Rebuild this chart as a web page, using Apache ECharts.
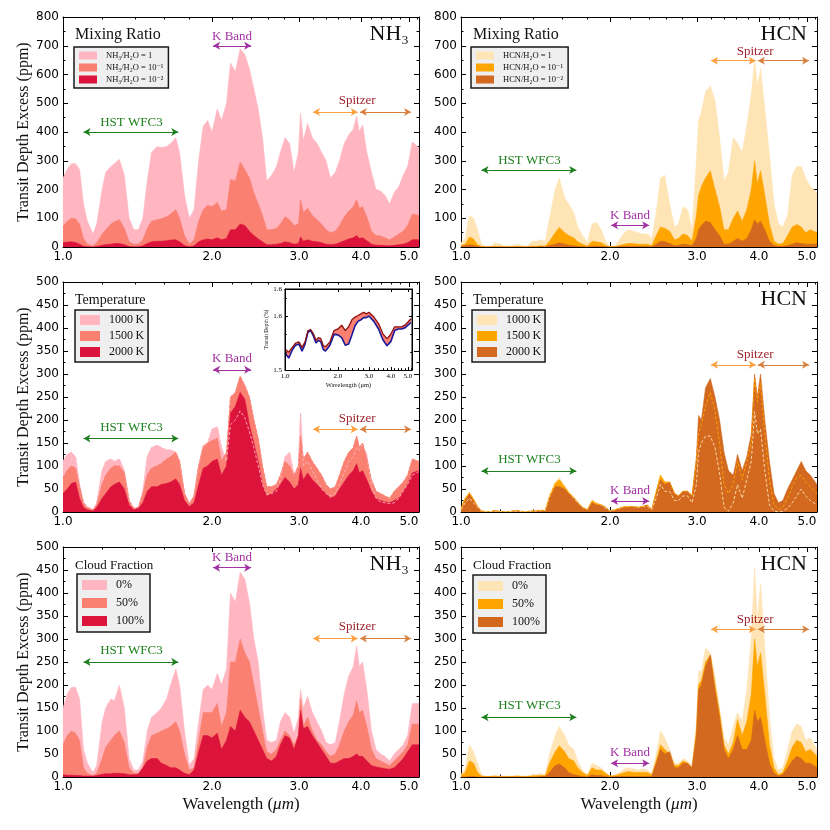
<!DOCTYPE html>
<html>
<head>
<meta charset="utf-8">
<title>Transit depth excess: NH3 and HCN</title>
<script src="https://cdn.jsdelivr.net/npm/echarts@6/dist/echarts.min.js"></script>
<style>
  html, body { margin: 0; padding: 0; background: #fff; }
  #chart { width: 830px; height: 830px; }
</style>
</head>
<body>
<div id="chart"></div>
<script>
// wavelength grid (micron) shared by all spectra
const wavelength = [
  1.00, 1.02, 1.04, 1.06, 1.08, 1.10, 1.12, 1.15, 1.17, 1.20,
  1.22, 1.25, 1.27, 1.30, 1.33, 1.36, 1.39, 1.42, 1.45, 1.48,
  1.51, 1.55, 1.58, 1.62, 1.65, 1.69, 1.72, 1.76, 1.80, 1.84,
  1.88, 1.92, 1.96, 2.00, 2.05, 2.09, 2.14, 2.18, 2.23, 2.28,
  2.33, 2.38, 2.43, 2.48, 2.53, 2.58, 2.64, 2.70, 2.75, 2.81,
  2.87, 2.93, 2.99, 3.02, 3.06, 3.12, 3.19, 3.26, 3.33, 3.40,
  3.47, 3.55, 3.62, 3.70, 3.78, 3.86, 3.92, 3.97, 4.03, 4.11,
  4.20, 4.29, 4.38, 4.47, 4.57, 4.67, 4.77, 4.87, 4.97, 5.08,
  5.24
];

// NH3 mixing ratio (ppm)
const nh3Mix1 = [
  240, 270, 290, 290, 270, 150, 90, 45, 80, 200,
  260, 280, 290, 305, 250, 100, 60, 60, 100, 230,
  330, 350, 345, 350, 360, 380, 330, 180, 100, 130,
  300, 420, 440, 400, 480, 440, 500, 640, 610, 690,
  670, 620, 550, 480, 380, 230, 250, 280, 330, 380,
  360, 260, 330, 465, 370, 430, 380, 360, 330, 300,
  240, 260, 300, 360, 390, 410, 455, 400, 425, 330,
  260, 200, 195, 180, 150, 190, 210, 250, 280, 365,
  345
];
const nh3Mix01 = [
  72, 90, 100, 98, 80, 30, 10, 4, 15, 45,
  60, 80, 88, 95, 65, 18, 10, 10, 25, 65,
  90, 95, 98, 105, 115, 130, 100, 40, 10, 25,
  90, 130, 145, 140, 155, 125, 130, 235, 230, 295,
  270, 240, 190, 150, 110, 60, 60, 65, 80, 105,
  95, 75, 80, 165, 120, 135, 110, 95, 80, 60,
  50, 55, 75, 105, 125, 140, 165, 135, 140, 105,
  55, 40, 38, 32, 25, 35, 45, 55, 75, 115,
  110
];
const nh3Mix001 = [
  15, 17, 18, 16, 10, 3, 1, 0, 2, 6,
  8, 10, 12, 12, 8, 2, 1, 1, 4, 12,
  18, 20, 20, 22, 24, 25, 18, 5, 1, 4,
  18, 25, 28, 25, 32, 25, 30, 60, 60, 80,
  75, 55, 40, 28, 18, 8, 8, 10, 12, 18,
  15, 10, 12, 35, 20, 25, 20, 18, 15, 10,
  8, 10, 15, 22, 28, 32, 40, 30, 32, 22,
  10, 6, 6, 5, 4, 6, 8, 10, 15, 25,
  25
];

// HCN mixing ratio (ppm)
const hcnMix1 = [
  15, 30, 110, 100, 60, 10, 3, 3, 15, 10,
  5, 3, 5, 10, 5, 2, 20, 20, 25, 20,
  100, 200, 240, 170, 150, 120, 70, 40, 15, 80,
  85, 60, 20, 3, 5, 25, 50, 60, 55, 50,
  45, 45, 30, 120, 240, 250, 150, 70, 80, 140,
  130, 60, 300, 440, 470, 540, 560, 510, 380, 230,
  260, 380, 360, 330, 420, 530, 650, 560, 620, 480,
  320, 150, 80, 70, 110, 250, 280, 280, 240, 210,
  190
];
const hcnMix01 = [
  5, 10, 35, 28, 8, 2, 1, 1, 2, 2,
  1, 1, 1, 2, 1, 1, 3, 3, 4, 3,
  20, 50, 68, 50, 40, 32, 18, 10, 3, 20,
  18, 15, 5, 1, 2, 5, 10, 12, 12, 10,
  10, 10, 5, 40, 70, 65, 55, 25, 30, 45,
  40, 20, 110, 180, 210, 240, 265, 200, 140, 60,
  60, 100, 125, 90, 130, 200, 300, 220, 265, 180,
  80, 20, 10, 12, 40, 70, 78, 70, 50, 60,
  50
];
const hcnMix001 = [
  3, 5, 8, 6, 2, 0, 0, 0, 0, 0,
  0, 0, 0, 0, 0, 0, 0, 0, 1, 1,
  5, 10, 15, 10, 6, 4, 2, 1, 0, 3,
  3, 2, 1, 0, 0, 1, 2, 2, 2, 2,
  2, 2, 1, 10, 20, 18, 12, 5, 6, 10,
  8, 4, 30, 60, 75, 90, 85, 60, 40, 10,
  10, 20, 30, 20, 30, 60, 95, 80, 90, 60,
  20, 5, 2, 2, 5, 10, 15, 12, 10, 10,
  10
];

// NH3 temperature (ppm)
const nh3T1000 = [
  110, 125, 130, 120, 60, 20, 10, 5, 20, 90,
  110, 115, 110, 115, 90, 25, 8, 10, 45, 120,
  140, 145, 140, 135, 135, 130, 110, 40, 18, 35,
  100, 145, 150, 180, 185, 140, 110, 190, 200, 220,
  205, 175, 140, 100, 60, 38, 40, 45, 70, 120,
  130, 80, 100, 215, 100, 110, 90, 70, 50, 40,
  35, 40, 60, 85, 110, 120, 140, 135, 145, 125,
  55, 30, 22, 20, 18, 20, 30, 45, 60, 80,
  88
];
const nh3T1500 = [
  75, 90, 100, 95, 55, 20, 10, 5, 15, 60,
  80, 95, 100, 100, 85, 25, 8, 10, 40, 80,
  95, 100, 105, 115, 120, 130, 110, 40, 18, 35,
  100, 140, 150, 155, 160, 110, 130, 250, 260, 295,
  275, 250, 200, 160, 100, 55, 55, 60, 80, 110,
  100, 80, 100, 165, 115, 130, 110, 95, 80, 60,
  50, 55, 80, 110, 130, 140, 165, 140, 150, 115,
  70, 45, 40, 35, 30, 45, 55, 65, 80, 115,
  110
];
const nh3T2000 = [
  40, 50, 62, 65, 30, 10, 5, 2, 10, 30,
  40, 55, 60, 65, 50, 15, 5, 8, 20, 45,
  55, 55, 60, 62, 65, 72, 60, 25, 12, 20,
  60, 95, 100, 110, 115, 80, 100, 215, 230, 260,
  245, 190, 150, 110, 60, 35, 40, 50, 60, 75,
  65, 50, 60, 95, 70, 85, 70, 60, 50, 40,
  30, 35, 50, 65, 80, 90, 105, 85, 90, 70,
  45, 30, 25, 22, 20, 25, 30, 45, 60, 85,
  90
];

// HCN temperature (ppm)
const hcnT1000 = [
  5, 20, 30, 20, 10, 2, 1, 1, 2, 1,
  1, 1, 1, 2, 1, 1, 2, 2, 3, 3,
  35, 65, 75, 55, 45, 30, 20, 10, 5, 25,
  20, 15, 8, 2, 5, 8, 12, 12, 12, 10,
  12, 12, 5, 30, 60, 45, 45, 25, 25, 35,
  35, 20, 60, 130, 150, 165, 165, 140, 85, 10,
  2, 20, 60, 30, 70, 110, 218, 170, 180, 90,
  15, 2, 0, 2, 8, 20, 35, 50, 35, 25,
  15
];
const hcnT1500 = [
  8, 30, 42, 28, 12, 2, 1, 1, 3, 1,
  1, 1, 2, 3, 1, 1, 2, 3, 4, 3,
  35, 62, 70, 55, 42, 32, 22, 10, 5, 25,
  18, 16, 10, 2, 5, 8, 12, 12, 12, 10,
  12, 15, 5, 45, 80, 65, 65, 40, 35, 45,
  45, 35, 110, 170, 190, 230, 260, 220, 150, 60,
  40, 60, 110, 70, 110, 150, 290, 240, 280, 170,
  70, 15, 5, 10, 30, 55, 75, 80, 65, 55,
  40
];
const hcnT2000 = [
  5, 25, 40, 25, 12, 2, 1, 1, 3, 1,
  1, 1, 2, 3, 1, 1, 2, 3, 3, 3,
  30, 55, 55, 50, 40, 30, 20, 10, 5, 20,
  15, 15, 10, 2, 5, 8, 10, 10, 12, 10,
  12, 15, 5, 40, 70, 60, 65, 40, 35, 45,
  45, 35, 120, 210, 200, 270, 290, 250, 200, 130,
  90, 80, 125, 90, 120, 170, 300, 250, 300, 200,
  110, 40, 20, 25, 50, 70, 90, 110, 90, 80,
  60
];

// NH3 cloud fraction (ppm)
const nh3Cloud0 = [
  150, 180, 195, 195, 170, 60, 30, 10, 25, 120,
  150, 170, 165, 200, 150, 40, 15, 15, 35, 100,
  130, 140, 150, 170, 200, 235, 200, 100, 25, 40,
  120, 190, 200, 190, 225, 200, 235, 400, 380, 445,
  430, 380, 300, 250, 150, 80, 75, 80, 120, 140,
  130, 95, 130, 190, 150, 175, 140, 120, 100, 75,
  70, 75, 120, 180, 220, 240, 285, 240, 250, 190,
  100, 60, 50, 45, 35, 50, 60, 70, 90, 160,
  160
];
const nh3Cloud50 = [
  70, 90, 100, 95, 80, 20, 8, 3, 8, 40,
  65, 80, 90, 100, 75, 20, 8, 8, 20, 65,
  90, 95, 100, 105, 110, 120, 100, 50, 15, 20,
  80, 140, 140, 140, 160, 110, 140, 250, 250, 300,
  270, 250, 200, 150, 100, 55, 50, 60, 80, 100,
  90, 70, 90, 170, 110, 130, 100, 80, 70, 55,
  45, 50, 70, 100, 120, 135, 165, 140, 145, 110,
  60, 40, 35, 30, 25, 35, 45, 55, 70, 115,
  115
];
const nh3Cloud100 = [
  5, 4, 4, 3, 3, 2, 2, 2, 3, 6,
  7, 7, 8, 8, 7, 5, 5, 6, 20, 35,
  40, 40, 30, 25, 20, 20, 15, 8, 5, 15,
  55, 90, 90, 85, 95, 60, 80, 110, 100, 145,
  130, 120, 100, 80, 60, 40, 35, 45, 70, 90,
  85, 60, 90, 145, 105, 110, 90, 75, 60, 45,
  30, 30, 35, 40, 40, 45, 50, 45, 45, 35,
  25, 22, 20, 18, 17, 20, 30, 40, 55, 70,
  70
];

// HCN cloud fraction (ppm)
const hcnCloud0 = [
  5, 20, 70, 55, 30, 5, 2, 2, 3, 2,
  2, 2, 2, 3, 2, 2, 5, 5, 8, 5,
  50, 90, 110, 90, 70, 60, 35, 15, 5, 30,
  25, 20, 10, 2, 5, 10, 18, 20, 18, 15,
  18, 15, 8, 50, 100, 85, 60, 30, 30, 40,
  35, 25, 120, 230, 230, 280, 270, 220, 150, 85,
  70, 110, 140, 120, 190, 300, 455, 340, 420, 280,
  130, 40, 15, 20, 60, 100, 115, 110, 80, 85,
  60
];
const hcnCloud50 = [
  3, 10, 35, 30, 10, 2, 1, 1, 2, 1,
  1, 1, 1, 2, 1, 1, 2, 3, 3, 3,
  30, 55, 68, 55, 40, 35, 20, 10, 3, 20,
  15, 15, 8, 2, 3, 6, 10, 12, 10, 10,
  10, 10, 5, 35, 70, 60, 50, 25, 25, 35,
  30, 20, 100, 200, 210, 250, 265, 200, 140, 70,
  50, 75, 125, 90, 120, 180, 300, 240, 270, 180,
  70, 20, 5, 10, 35, 65, 80, 75, 55, 60,
  45
];
const hcnCloud100 = [
  0, 0, 1, 1, 0, 0, 0, 0, 0, 0,
  0, 0, 0, 0, 0, 0, 0, 0, 1, 1,
  10, 25, 28, 20, 10, 5, 3, 1, 0, 5,
  3, 3, 1, 0, 1, 1, 1, 1, 1, 1,
  1, 1, 1, 30, 60, 50, 55, 20, 20, 30,
  30, 20, 90, 190, 200, 240, 265, 190, 130, 60,
  40, 60, 90, 60, 60, 80, 145, 120, 130, 80,
  30, 8, 2, 5, 20, 35, 45, 40, 30, 30,
  20
];

// inset: total transit depth (%)
const insetWavelength = [
  1.00, 1.05, 1.10, 1.15, 1.20, 1.25, 1.30, 1.35, 1.40, 1.45,
  1.50, 1.55, 1.60, 1.65, 1.70, 1.80, 1.90, 2.00, 2.10, 2.20,
  2.30, 2.40, 2.50, 2.60, 2.70, 2.80, 2.90, 3.00, 3.20, 3.40,
  3.60, 3.80, 3.90, 4.00, 4.20, 4.40, 4.60, 4.80, 5.00, 5.20
];
const insetWithNH3 = [
  1.539, 1.533, 1.542, 1.550, 1.552, 1.542, 1.552, 1.573, 1.575, 1.567,
  1.555, 1.560, 1.558, 1.545, 1.543, 1.552, 1.573, 1.576, 1.583, 1.573,
  1.580, 1.593, 1.598, 1.601, 1.604, 1.607, 1.604, 1.607, 1.598, 1.586,
  1.567, 1.558, 1.562, 1.567, 1.580, 1.580, 1.580, 1.583, 1.589, 1.595
];
const insetWithoutNH3 = [
  1.532, 1.522, 1.537, 1.546, 1.548, 1.535, 1.548, 1.570, 1.573, 1.563,
  1.550, 1.555, 1.552, 1.538, 1.535, 1.546, 1.566, 1.565, 1.560, 1.546,
  1.548, 1.565, 1.582, 1.590, 1.593, 1.597, 1.597, 1.600, 1.590, 1.576,
  1.556, 1.545, 1.548, 1.553, 1.573, 1.576, 1.576, 1.578, 1.583, 1.588
];

// axis ticks and instrument bands
const xMajorTicks = [1, 2, 3, 4, 5];
const xMinorTicks = [1.2, 1.4, 1.6, 1.8, 2.2, 2.4, 2.6, 2.8, 3.2, 3.4, 3.6, 3.8, 4.2, 4.4, 4.6, 4.8, 5.2];
const hstBand = [1.10, 1.71];
const kBand = [2.01, 2.40];
const spitzerCh1 = [3.20, 3.94];
const spitzerCh2 = [3.98, 5.05];

const mixLabelsNH3 = ['NH₃/H₂O = 1', 'NH₃/H₂O = 10⁻¹', 'NH₃/H₂O = 10⁻²'];
const mixLabelsHCN = ['HCN/H₂O = 1', 'HCN/H₂O = 10⁻¹', 'HCN/H₂O = 10⁻²'];
const tempLabels = ['1000\u2009K', '1500\u2009K', '2000\u2009K'];
const cloudLabels = ['0%', '50%', '100%'];

const serif = '"Liberation Serif", "DejaVu Serif", serif';
const sans = '"DejaVu Sans", sans-serif';
const nh3Colors = ['#ffb6c1', '#fa8072', '#dc143c'];
const hcnColors = ['#ffe4b5', '#ffa500', '#d2691e'];
const green = '#1d7f1d';
const purple = '#a232a2';
const spitzerRed = '#a0242c';

const panels = [
  { key: 'a', left: 63, top: 17, ymax: 800, step: 100, colors: nh3Colors,
    values: [nh3Mix1, nh3Mix01, nh3Mix001], labels: mixLabelsNH3,
    title: 'Mixing Ratio', titleSize: 16, molecule: 'NH₃',
    legend: { left: 74, top: 47, w: 18, h: 8, font: 8.5, gap: 3, pad: [4, 5, 4, 5] },
    hst: [400, 432], kb: [700, 733], sp: [470, 511], dashed: false },
  { key: 'b', left: 461, top: 17, ymax: 800, step: 100, colors: hcnColors,
    values: [hcnMix1, hcnMix01, hcnMix001], labels: mixLabelsHCN,
    title: 'Mixing Ratio', titleSize: 16, molecule: 'HCN',
    legend: { left: 471, top: 47, w: 18, h: 8, font: 8.5, gap: 3, pad: [4, 5, 4, 5] },
    hst: [268, 300], kb: [76, 109], sp: [648, 681], dashed: false },
  { key: 'c', left: 63, top: 282, ymax: 500, step: 50, colors: nh3Colors,
    values: [nh3T1000, nh3T1500, nh3T2000], labels: tempLabels,
    title: 'Temperature', titleSize: 14, molecule: null,
    legend: { left: 75, top: 310, w: 20, h: 10, font: 12, gap: 4, pad: [4, 4, 4, 5] },
    hst: [160, 183], kb: [309, 334], sp: [180, 203], dashed: true },
  { key: 'd', left: 461, top: 282, ymax: 500, step: 50, colors: hcnColors,
    values: [hcnT1000, hcnT1500, hcnT2000], labels: tempLabels,
    title: 'Temperature', titleSize: 14, molecule: 'HCN',
    legend: { left: 472, top: 310, w: 20, h: 10, font: 12, gap: 4, pad: [4, 4, 4, 5] },
    hst: [89, 113], kb: [24, 47], sp: [320, 343], dashed: true },
  { key: 'e', left: 63, top: 547, ymax: 500, step: 50, colors: nh3Colors,
    values: [nh3Cloud0, nh3Cloud50, nh3Cloud100], labels: cloudLabels,
    title: 'Cloud Fraction', titleSize: 13, molecule: 'NH₃',
    legend: { left: 77, top: 574, w: 25, h: 10, font: 12, gap: 6, pad: [5, 6, 5, 5] },
    hst: [250, 275], kb: [455, 478], sp: [301, 327], dashed: false },
  { key: 'f', left: 461, top: 547, ymax: 500, step: 50, colors: hcnColors,
    values: [hcnCloud0, hcnCloud50, hcnCloud100], labels: cloudLabels,
    title: 'Cloud Fraction', titleSize: 13, molecule: 'HCN',
    legend: { left: 473, top: 575, w: 25, h: 10, font: 12, gap: 6, pad: [5, 6, 5, 5] },
    hst: [130, 155], kb: [30, 53], sp: [321, 343], dashed: false }
];

const grid = [], xAxis = [], yAxis = [], series = [], legend = [], graphic = [];
const tickLine = { color: '#000', width: 1 };

panels.forEach((p, i) => {
  const bottomRow = i >= 4;
  grid.push({ left: p.left, top: p.top, width: 356, height: 230, containLabel: false });

  const xBase = { gridIndex: i, type: 'log', logBase: 10, min: 1, max: 5.24, splitLine: { show: false } };
  xAxis.push(Object.assign({}, xBase, {
    position: 'bottom',
    axisLine: { show: true, lineStyle: { color: '#000', width: 1 } },
    axisTick: { show: true, inside: true, length: 5, customValues: xMajorTicks, lineStyle: tickLine },
    axisLabel: { show: true, customValues: xMajorTicks, formatter: v => Number(v).toFixed(1),
      fontFamily: sans, fontSize: 12, color: '#000', margin: 4 },
    name: bottomRow ? 'Wavelength ({i|μm})' : '',
    nameLocation: 'middle', nameGap: 19,
    nameTextStyle: { fontFamily: serif, fontSize: 17, color: '#111',
      rich: { i: { fontFamily: serif, fontSize: 17, fontStyle: 'italic', color: '#111' } } }
  }));
  xAxis.push(Object.assign({}, xBase, {
    position: 'bottom', axisLine: { show: false },
    axisTick: { show: true, inside: true, length: 2.5, customValues: xMinorTicks, lineStyle: tickLine },
    axisLabel: { show: false }
  }));
  xAxis.push(Object.assign({}, xBase, {
    position: 'top',
    axisLine: { show: true, lineStyle: { color: '#000', width: 1 } },
    axisTick: { show: true, inside: true, length: 5, customValues: xMajorTicks, lineStyle: tickLine },
    axisLabel: { show: false }
  }));
  xAxis.push(Object.assign({}, xBase, {
    position: 'top', axisLine: { show: false },
    axisTick: { show: true, inside: true, length: 2.5, customValues: xMinorTicks, lineStyle: tickLine },
    axisLabel: { show: false }
  }));

  const yBase = { gridIndex: i, type: 'value', min: 0, max: p.ymax, interval: p.step, splitLine: { show: false },
    axisLine: { show: true, lineStyle: { color: '#000', width: 1 } },
    axisTick: { show: true, inside: true, length: 5, lineStyle: tickLine },
    minorTick: { show: true, splitNumber: 2, length: 2.5, lineStyle: tickLine } };
  yAxis.push(Object.assign({}, yBase, {
    position: 'left',
    axisLabel: { fontFamily: sans, fontSize: 12, color: '#000', margin: 4 },
    name: i % 2 === 0 ? 'Transit Depth Excess (ppm)' : '',
    nameLocation: 'middle', nameGap: 30,
    nameTextStyle: { fontFamily: serif, fontSize: 16, color: '#111' }
  }));
  yAxis.push(Object.assign({}, yBase, { position: 'right', axisLabel: { show: false } }));

  const names = p.labels.map(l => p.key + '|' + l);
  p.values.forEach((vals, k) => {
    const s = {
      name: names[k], type: 'line', xAxisIndex: 4 * i, yAxisIndex: 2 * i,
      data: wavelength.map((w, j) => [w, vals[j]]),
      showSymbol: false, symbol: 'none', color: p.colors[k],
      lineStyle: { width: 0.6, color: p.colors[k] },
      areaStyle: { color: p.colors[k], opacity: 1 },
      z: 2 + k, silent: true, animation: false
    };
    if (k === 2) {
      s.markLine = {
        silent: true, animation: false, symbol: ['arrow', 'arrow'], symbolSize: [6, 7],
        label: { show: false }, emphasis: { disabled: true },
        data: [
          [{ coord: [hstBand[0], p.hst[0]], lineStyle: { color: green, width: 1.2, type: 'solid' } }, { coord: [hstBand[1], p.hst[0]] }],
          [{ coord: [kBand[0], p.kb[0]], lineStyle: { color: purple, width: 1.2, type: 'solid' } }, { coord: [kBand[1], p.kb[0]] }],
          [{ coord: [spitzerCh1[0], p.sp[0]], lineStyle: { color: '#ffa040', width: 1.2, type: 'solid' } }, { coord: [spitzerCh1[1], p.sp[0]] }],
          [{ coord: [spitzerCh2[0], p.sp[0]], lineStyle: { color: '#d9803f', width: 1.2, type: 'solid' } }, { coord: [spitzerCh2[1], p.sp[0]] }]
        ]
      };
      s.markPoint = {
        silent: true, animation: false, symbol: 'circle', symbolSize: 1,
        itemStyle: { color: 'rgba(0,0,0,0)' },
        label: { show: true, position: 'inside', formatter: '{b}', fontFamily: serif, fontSize: 13 },
        data: [
          { name: 'HST WFC3', coord: [1.375, p.hst[1]], label: { color: green } },
          { name: 'K Band', coord: [2.196, p.kb[1]], label: { color: purple } },
          { name: 'Spitzer', coord: [3.93, p.sp[1]], label: { color: spitzerRed } }
        ]
      };
    }
    series.push(s);
  });
  if (p.dashed) {
    [0, 1].forEach(k => {
      series.push({
        name: p.key + '-dash' + k, type: 'line', xAxisIndex: 4 * i, yAxisIndex: 2 * i,
        data: wavelength.map((w, j) => [w, p.values[k][j]]),
        showSymbol: false, symbol: 'none',
        lineStyle: { width: 0.9, color: p.colors[k], type: [3, 2] },
        z: 6, silent: true, animation: false
      });
    });
  }

  const lg = p.legend;
  legend.push({
    left: lg.left, top: lg.top, orient: 'vertical', data: names, icon: 'rect',
    itemWidth: lg.w, itemHeight: lg.h, itemGap: lg.gap, padding: lg.pad,
    backgroundColor: '#efefef', borderColor: '#1a1a1a', borderWidth: 1.5, borderRadius: 0,
    selectedMode: false, formatter: n => n.split('|')[1],
    textStyle: { fontFamily: serif, fontSize: lg.font, color: '#111', padding: [0, 0, 0, 4] }
  });

  graphic.push({ type: 'text', left: p.left + 12, top: p.top + 10 + (16 - p.titleSize) * 0.6,
    style: { text: p.title, fontFamily: serif, fontSize: p.titleSize, fill: '#111' } });
  if (p.molecule) {
    graphic.push({ type: 'text', right: 830 - (p.left + 346), top: p.top + 6,
      style: { text: p.molecule, fontFamily: serif, fontSize: 22, fill: '#111' } });
  }
});

// inset inside the NH3 temperature panel
const insetGrid = grid.length;
grid.push({ left: 285, top: 289, width: 127, height: 81, show: true, backgroundColor: '#fff',
  borderColor: '#000', borderWidth: 1, z: 10 });
const insetFrame = { show: true, lineStyle: { color: '#000', width: 1 } };
const insetX = xAxis.length;
xAxis.push({ gridIndex: insetGrid, type: 'log', logBase: 10, min: 1, max: 5.27, position: 'bottom', z: 14,
  splitLine: { show: false }, axisLine: insetFrame,
  axisTick: { show: true, inside: true, length: 3, customValues: xMajorTicks, lineStyle: tickLine },
  axisLabel: { customValues: xMajorTicks, formatter: v => Number(v).toFixed(1), fontFamily: serif, fontSize: 7, color: '#000', margin: 3 },
  name: 'Wavelength (μm)', nameLocation: 'middle', nameGap: 12,
  nameTextStyle: { fontFamily: serif, fontSize: 6.5, color: '#111' } });
xAxis.push({ gridIndex: insetGrid, type: 'log', logBase: 10, min: 1, max: 5.27, position: 'bottom', z: 14,
  splitLine: { show: false }, axisLine: { show: false },
  axisTick: { show: true, inside: true, length: 1.8, customValues: xMinorTicks, lineStyle: tickLine },
  axisLabel: { show: false } });
xAxis.push({ gridIndex: insetGrid, type: 'log', logBase: 10, min: 1, max: 5.27, position: 'top', z: 14,
  splitLine: { show: false }, axisLine: insetFrame,
  axisTick: { show: true, inside: true, length: 3, customValues: xMajorTicks, lineStyle: tickLine },
  axisLabel: { show: false } });
const insetY = yAxis.length;
yAxis.push({ gridIndex: insetGrid, type: 'value', min: 1.5, max: 1.65, interval: 0.1, position: 'left', z: 14,
  splitLine: { show: false }, axisLine: insetFrame,
  axisTick: { show: true, inside: true, length: 3, lineStyle: tickLine },
  minorTick: { show: true, splitNumber: 3, length: 1.8, lineStyle: tickLine },
  axisLabel: { fontFamily: serif, fontSize: 7, color: '#000', margin: 3, formatter: v => Number(v).toFixed(1) },
  name: 'Transit Depth (%)', nameLocation: 'middle', nameGap: 14,
  nameTextStyle: { fontFamily: serif, fontSize: 5.5, color: '#111' } });
yAxis.push({ gridIndex: insetGrid, type: 'value', min: 1.5, max: 1.65, interval: 0.1, position: 'right', z: 14,
  splitLine: { show: false }, axisLine: insetFrame,
  axisTick: { show: true, inside: true, length: 3, lineStyle: tickLine },
  minorTick: { show: true, splitNumber: 3, length: 1.8, lineStyle: tickLine },
  axisLabel: { show: false } });

// the gap between the two spectra is filled salmon: red curve filled down, blue curve filled white on top
const insetCommon = { type: 'line', xAxisIndex: insetX, yAxisIndex: insetY, showSymbol: false, symbol: 'none',
  silent: true, animation: false };
series.push(Object.assign({}, insetCommon, {
  name: 'inset-fill', z: 11, lineStyle: { width: 0 },
  areaStyle: { color: '#fa8072', opacity: 1, origin: 'start' },
  data: insetWavelength.map((w, j) => [w, insetWithNH3[j]])
}));
series.push(Object.assign({}, insetCommon, {
  name: 'inset-mask', z: 12, lineStyle: { width: 0 },
  areaStyle: { color: '#ffffff', opacity: 1, origin: 'start' },
  data: insetWavelength.map((w, j) => [w, insetWithoutNH3[j]])
}));
series.push(Object.assign({}, insetCommon, {
  name: 'inset-blue', z: 13, lineStyle: { width: 1.6, color: '#1a1a9a' },
  data: insetWavelength.map((w, j) => [w, insetWithoutNH3[j]])
}));
series.push(Object.assign({}, insetCommon, {
  name: 'inset-red', z: 13, lineStyle: { width: 1.3, color: '#8b1010' },
  data: insetWavelength.map((w, j) => [w, insetWithNH3[j]])
}));

const chart = echarts.init(document.getElementById('chart'), null, { renderer: 'canvas' });
chart.setOption({
  backgroundColor: '#fff',
  animation: false,
  grid: grid,
  xAxis: xAxis,
  yAxis: yAxis,
  legend: legend,
  graphic: graphic,
  series: series
});
</script>
</body>
</html>
